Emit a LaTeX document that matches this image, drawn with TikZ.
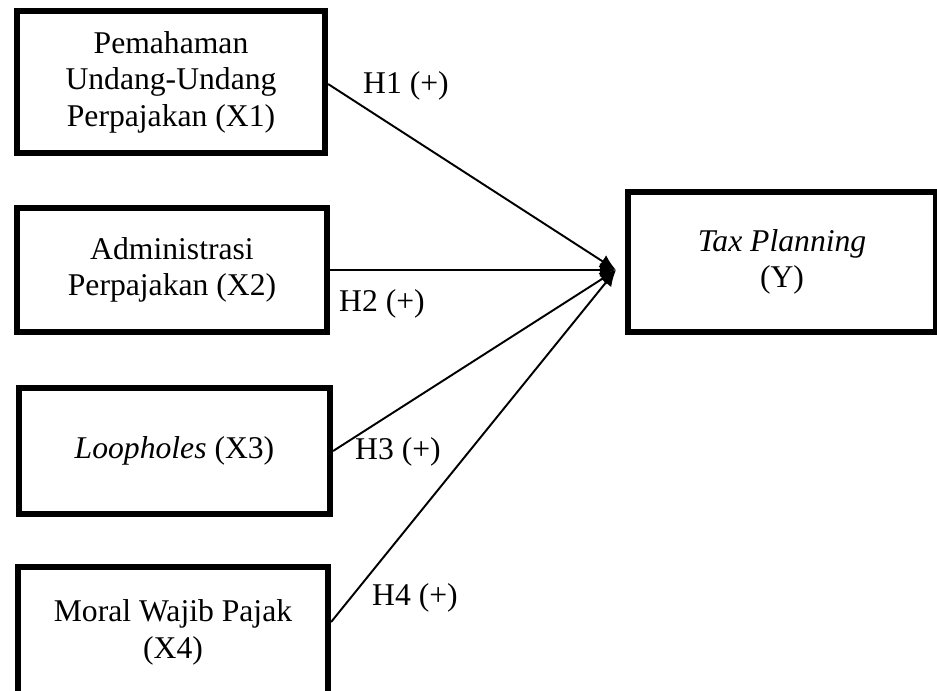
\documentclass[tikz,border=0pt]{standalone}
\usepackage{fontspec}
\setmainfont{Liberation Serif}
\usetikzlibrary{arrows.meta,positioning}

\begin{document}
\begin{tikzpicture}[x=0.01cm,y=-0.01cm,
    var/.style={draw,line width=1.7pt,align=center,inner sep=0pt,
        font=\fontsize{9}{10.4}\selectfont},
    hyp/.style={inner sep=0pt,font=\fontsize{9}{10.4}\selectfont},
    path/.style={line width=0.55pt,-{Latex[length=4.6pt,width=4pt]}}]
            \clip (0,0) rectangle (937,690);
            \node[var,minimum width=3.08cm,minimum height=1.42cm] (x1) at (171,82) {Pemahaman\\Undang-Undang\\Perpajakan (X1)};
            \node[var,minimum width=3.10cm,minimum height=1.24cm] (x2) at (172,270) {Administrasi\\Perpajakan (X2)};
            \node[var,minimum width=3.11cm,minimum height=1.26cm] (x3) at (174.5,451) {\textit{Loopholes} (X3)};
            \node[var,minimum width=3.10cm,minimum height=1.31cm] (x4) at (173,632.5) {Moral Wajib Pajak\\(X4)};
            \node[var,minimum width=3.08cm,minimum height=1.40cm] (y) at (782,262) {\textit{Tax Planning}\\(Y)};
            \coordinate (tip) at (616,270);
            \draw[path] ([yshift=-0.02cm]x1.east) -- (tip);
            \draw[path] (x2.east) -- (tip);
            \draw[path] (x3.east) -- (tip);
            \draw[path] ([yshift=0.105cm]x4.east) -- (tip);
            \node[hyp] (h1) at (406,86) {H1 (+)};
            \node[hyp] (h2) at (382,304) {H2 (+)};
            \node[hyp] (h3) at (398,452) {H3 (+)};
            \node[hyp] (h4) at (415,598) {H4 (+)};
    \end{tikzpicture}
\end{document}
